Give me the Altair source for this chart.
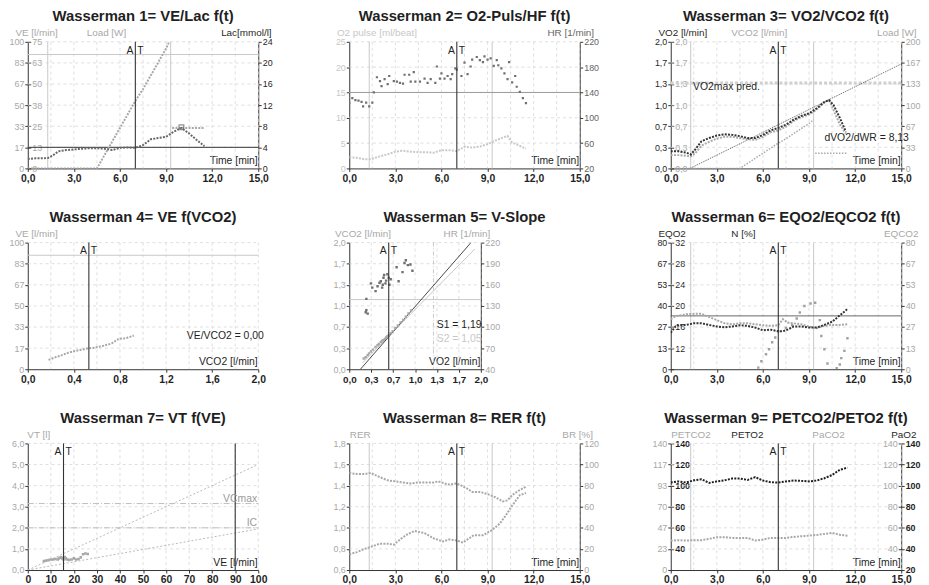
import altair as alt
import pandas as pd

FONT = "Liberation Sans"
INK = "#1f1f1f"
DARK = "#333333"
MID = "#666666"
LIGHT = "#a8a8a8"
PALE = "#c8c8c8"
GRIDC = "#d6d6d6"
W, H = 233, 128
W5 = 133

# ---------------- data ----------------
TIME_TICKS = [0, 3, 6, 9, 12, 15]
TIME_GRID = [1.5, 3, 4.5, 6, 7.5, 9, 10.5, 12, 13.5, 15]
PHASES = [1.3, 9.3]
AT_TIME = [7.0]

VE_TICKS = [0, 16.667, 33.333, 50, 66.667, 83.333, 100]
LOAD75_TICKS = [0, 12.5, 25, 37.5, 50, 62.5, 75]
LAC_TICKS = [0, 4, 8, 12, 16, 20, 24]
O2P_TICKS = [0, 5, 10, 15, 20, 25]
HR2_TICKS = [20, 60, 100, 140, 180, 220]
V2_TICKS = [0, 0.3333, 0.6667, 1.0, 1.3333, 1.6667, 2.0]
LOAD200_TICKS = [0, 33.333, 66.667, 100, 133.333, 166.667, 200]
VCO2X_TICKS = [0, 0.4, 0.8, 1.2, 1.6, 2.0]
VCO2X_GRID = [0.2, 0.4, 0.6, 0.8, 1.0, 1.2, 1.4, 1.6, 1.8, 2.0]
HR5_TICKS = [40, 70, 100, 130, 160, 190, 220]
EQ_TICKS = [0, 13.333, 26.667, 40, 53.333, 66.667, 80]
N_TICKS = [8, 12, 16, 20, 24, 28, 32]
VT_TICKS = [0, 1, 2, 3, 4, 5, 6]
VE7_TICKS = [0, 10, 20, 30, 40, 50, 60, 70, 80, 90, 100]
RER_TICKS = [0.6, 0.8, 1.0, 1.2, 1.4, 1.6, 1.8]
BR_TICKS = [0, 20, 40, 60, 80, 100, 120]
PETCO2_TICKS = [0, 23.333, 46.667, 70, 93.333, 116.667, 140]
P140_TICKS = [20, 40, 60, 80, 100, 120, 140]

# panel 1
p1_t = [0.0, 0.5, 1.0, 1.3, 1.6, 2.0, 2.5, 3.0, 3.5, 4.0, 4.5, 5.0, 5.5, 6.0, 6.5, 7.0, 7.5, 8.0, 8.5, 9.0,
        9.5, 10.0, 10.5, 11.0, 11.5]
p1_ve = [7.5, 8.0, 8.0, 8.2, 10.0, 13.5, 14.5, 15.0, 15.5, 16.0, 16.0, 15.5, 14.5, 16.3, 16.5, 16.3, 18.4, 23.0,
         24.0, 25.0, 29.0, 32.0, 27.6, 22.4, 17.6]
load_t = [0.0, 1.0, 2.0, 3.0, 4.0, 4.5, 5.0, 5.5, 6.0, 6.5, 7.0, 7.5, 8.0, 8.5, 9.0, 9.3]
load_w = [0, 0, 0, 0, 0, 0, 8, 16, 24, 32, 40, 47, 55, 63, 71, 77]
rec_t = [9.4, 10.0, 10.5, 11.0, 11.5]
rec_w = [24, 24, 24, 24, 24]
lac_t = [10.0]
lac_v = [7.8]

# panel 2
hr_t = [0.0, 0.2, 0.4, 0.6, 0.8, 0.9, 1.1, 1.3, 1.5, 1.6, 1.8, 2.0, 2.1, 2.3, 2.5, 2.6, 2.9, 3.1, 3.3, 3.5,
        3.6, 3.9, 4.0, 4.2, 4.3, 4.6, 4.9, 5.1, 5.3, 5.6, 5.7, 5.9, 6.0, 6.2, 6.4, 6.6, 6.7, 6.9, 7.0, 7.3,
        7.5, 7.7, 7.9, 8.0, 8.3, 8.5, 8.7, 8.8, 9.0, 9.2, 9.4, 9.6, 9.7, 9.9, 10.1, 10.3, 10.4, 10.6, 10.8,
        10.9, 11.1, 11.3, 11.5]
hr = [123, 131, 128, 127, 125, 118, 124, 118, 124, 140, 164, 158, 150, 161, 153, 166, 158, 157, 155, 154,
      168, 168, 157, 172, 157, 157, 162, 155, 161, 155, 181, 162, 170, 162, 166, 161, 169, 178, 176, 166,
      187, 169, 181, 192, 196, 191, 188, 197, 192, 194, 182, 191, 183, 178, 170, 161, 188, 156, 166, 149,
      141, 131, 123]
op_t = [0.0, 0.5, 1.0, 1.3, 1.6, 2.0, 2.5, 3.0, 3.5, 4.0, 4.5, 5.0, 5.5, 6.0, 6.5, 7.0, 7.5, 8.0, 8.5, 9.0,
        9.5, 10.0, 10.3, 10.6, 11.0, 11.5]
o2pulse = [2.2, 2.1, 1.8, 1.8, 2.0, 2.4, 2.8, 3.3, 3.5, 3.3, 3.2, 3.2, 3.1, 3.6, 3.6, 3.4, 4.3, 4.1, 4.3, 4.8,
           5.5, 6.1, 6.4, 5.1, 4.6, 3.9]

# panel 3
v_t = [0.0, 0.5, 1.0, 1.3, 1.6, 2.0, 2.5, 3.0, 3.5, 4.0, 4.5, 5.0, 5.5, 6.0, 6.5, 7.0, 7.5, 8.0, 8.5, 9.0,
       9.5, 10.0, 10.3, 10.6, 11.0, 11.4]
vo2 = [0.27, 0.27, 0.25, 0.22, 0.30, 0.43, 0.48, 0.52, 0.54, 0.53, 0.51, 0.48, 0.48, 0.53, 0.60, 0.64, 0.69,
       0.77, 0.83, 0.87, 0.95, 1.05, 1.08, 1.00, 0.80, 0.58]
vco2 = [0.21, 0.21, 0.20, 0.19, 0.24, 0.36, 0.42, 0.47, 0.50, 0.50, 0.48, 0.46, 0.45, 0.50, 0.57, 0.60, 0.66,
        0.75, 0.81, 0.85, 0.93, 1.04, 1.08, 0.92, 0.70, 0.55]
pred_t = [1.25, 15.0]
pred_v = [0.0, 1.65]
vo2max_pred = [1.35]

# panel 4
p4_vco2 = [0.18, 0.20, 0.24, 0.28, 0.32, 0.35, 0.40, 0.44, 0.48, 0.51, 0.54, 0.58, 0.62, 0.65, 0.70, 0.73,
           0.78, 0.80, 0.82, 0.87, 0.92]
p4_ve = [7.4, 8.0, 9.5, 10.5, 12.0, 13.0, 14.2, 15.0, 15.6, 16.3, 16.6, 17.0, 17.8, 18.4, 19.6, 20.5, 23.5,
         24.2, 24.0, 25.0, 26.6]
p4_at = [0.53]

# panel 5
p5_vo2 = [0.22, 0.25, 0.28, 0.30, 0.33, 0.36, 0.40, 0.43, 0.45, 0.48, 0.50, 0.52, 0.54, 0.56, 0.58, 0.60,
          0.63, 0.66, 0.70, 0.74, 0.78, 0.82, 0.86, 0.90, 0.94]
p5_vco2 = [0.17, 0.19, 0.22, 0.25, 0.28, 0.31, 0.35, 0.38, 0.40, 0.43, 0.45, 0.46, 0.48, 0.50, 0.52, 0.54,
           0.57, 0.60, 0.65, 0.69, 0.74, 0.78, 0.83, 0.88, 0.93]
p5_hx = [0.25, 0.26, 0.28, 0.26, 0.33, 0.35, 0.40, 0.43, 0.46, 0.48, 0.50, 0.51, 0.52, 0.53, 0.55, 0.56, 0.58,
         0.60, 0.61, 0.63, 0.72, 0.75, 0.81, 0.84, 0.86, 0.89, 0.93, 0.96]
p5_hr = [121, 124, 119, 140, 162, 156, 151, 158, 163, 165, 156, 160, 170, 174, 162, 166, 175, 170, 160, 168,
         185, 165, 178, 191, 195, 188, 189, 180]
s1_x = [0.17, 1.85]
s1_y = [0.0, 2.0]
s2_x = [0.20, 1.91]
s2_y = [0.10, 1.90]
p5_at = [0.6]
p5_hline = [1.1]
p5_vline = [1.28]

# panel 6
eq_t = [0.0, 0.3, 0.6, 1.0, 1.5, 2.0, 2.5, 3.0, 3.5, 4.0, 4.5, 5.0, 5.5, 6.0, 6.5, 7.0, 7.3, 7.6, 8.0, 8.5,
        9.0, 9.5, 10.0, 10.5, 11.0, 11.5]
eqo2 = [23, 27, 28, 28, 29, 29, 28, 27, 26.5, 27, 27.8, 27.4, 26.3, 24.6, 25, 24, 24, 25, 27, 27, 26.3, 26.3,
        28, 30, 34, 38]
eqco2 = [31.6, 33.5, 34, 34.7, 35, 35, 33, 31, 29, 28.4, 29, 29, 28.4, 27.8, 27.4, 27.8, 31.6, 29.5, 29, 28.4,
         27, 25.9, 27.4, 28, 28, 28.4]
n_t = [5.7, 5.9, 6.2, 6.4, 6.6, 6.8, 7.0, 7.5, 7.9, 8.2, 8.4, 8.7, 9.1, 9.4, 9.7, 9.8, 10.0, 10.2, 10.8, 11.0,
       11.1, 11.3, 11.5]
n_v = [1, 5, 9.5, 12.6, 17, 20, 24, 26, 28, 32, 35.8, 40, 41.5, 42, 31, 21, 12.6, 3.6, 0.6, 3, 7, 11.6, 19.6]
eq_ref = [33.7]

# panel 7
p7_ve = [7, 8, 9, 10, 11, 12, 13, 13.5, 14, 14.5, 15, 15.5, 16, 16.5, 17, 18, 19, 20, 21, 22, 23, 24, 25, 26]
p7_vt = [0.42, 0.45, 0.47, 0.5, 0.5, 0.52, 0.5, 0.55, 0.58, 0.6, 0.55, 0.5, 0.62, 0.55, 0.5, 0.48, 0.5, 0.55,
         0.5, 0.52, 0.6, 0.75, 0.78, 0.76]
vc_line_x = [0, 100]
vc_line_y = [0, 5.0]
ic_line_x = [0, 100]
ic_line_y = [0, 1.95]
vcmax = [3.15]
ic = [2.0]
p7_at = [15.5]
ve_max = [90]

# panel 8
rer_t = [0.0, 0.5, 1.0, 1.4, 2.0, 2.5, 2.9, 3.4, 3.8, 4.25, 4.9, 5.5, 6.1, 6.5, 7.0, 7.4, 7.9, 8.1, 8.7, 9.3,
         9.8, 10.2, 10.6, 11.1, 11.5]
rer = [0.75, 0.77, 0.80, 0.82, 0.85, 0.85, 0.84, 0.90, 0.94, 0.97, 0.95, 0.90, 0.87, 0.89, 0.88, 0.86, 0.91,
       0.93, 0.93, 0.98, 1.04, 1.12, 1.21, 1.31, 1.33]
br_t = [0.0, 0.5, 1.0, 1.4, 2.0, 2.5, 3.0, 3.5, 4.0, 4.5, 5.0, 5.5, 5.8, 6.2, 6.5, 7.0, 7.3, 7.7, 8.0, 8.5,
        9.0, 9.5, 10.0, 10.3, 10.6, 11.0, 11.5]
br = [92, 91, 91, 92, 88, 85, 84, 83, 82, 83, 83, 83, 84, 82, 81, 82, 80, 77, 74, 74, 72, 69, 65, 66, 71, 75, 79]

# panel 9
pe_t = [0.0, 0.5, 1.0, 1.5, 2.0, 2.5, 3.0, 3.5, 4.0, 4.5, 5.0, 5.5, 6.0, 6.5, 7.0, 7.5, 8.0, 8.5, 9.0, 9.5,
        10.0, 10.5, 11.0, 11.5]
peto2 = [103, 104, 103, 105, 106, 102.6, 104, 105, 106.7, 106.7, 105.4, 108, 104.8, 103.2, 102.9, 104, 104.8,
         104.5, 104, 104.8, 107, 110, 115, 117]
petco2 = [32.6, 33, 32.6, 33, 33, 34.4, 36.3, 36.3, 35.5, 35.5, 35.5, 32.6, 33.7, 35.5, 35.5, 35.5, 36.6, 37.4,
          38, 38.8, 39.9, 41, 39, 38]

# ---------------- helpers ----------------
INT = "format(datum.value, '.0f')"
DEC = "replace(format(datum.value, '.1f'), '.', ',')"


def D(**cols):
    return pd.DataFrame(cols)


def S(lo, hi, rng=None):
    if rng is None:
        return alt.Scale(domain=[lo, hi], nice=False, zero=False)
    return alt.Scale(domain=[lo, hi], nice=False, zero=False, range=rng)


class PX:
    """x scale + the (identical) x axis used by every layer of a panel."""

    def __init__(self, lo, hi, values, expr, title, width=W, size=10.5, rng=None):
        self.lo = lo
        self.scale = S(lo, hi, rng)
        self.axis = alt.Axis(values=values, labelExpr=expr, title=title, titleAngle=0, titleX=width - 1,
                             titleY=-3, titleAlign='right', titleBaseline='bottom', titleFontSize=10.5,
                             titleFontWeight='normal', titleColor=INK, labelColor=INK, labelFontSize=size,
                             labelFontWeight='bold', labelPadding=2, labelFlush=False, labelOverlap=False,
                             tickSize=3, tickColor=DARK, domainColor=DARK, grid=False)


def XE(px, f='x:Q'):
    return alt.X(f, scale=px.scale, axis=px.axis)


def YE(ysc, f='y:Q'):
    return alt.Y(f, scale=ysc, axis=None)


def yaxis(px, ysc, values, expr, orient='left', offset=0, color=LIGHT, title=None, tx=0, talign='left',
          tcolor=None, bold=False, domain=True):
    kw = dict(orient=orient, offset=offset, values=values, labelExpr=expr, labelColor=color, labelFontSize=9,
              labelFontWeight='bold' if bold else 'normal', labelPadding=1, labelFlush=False,
              labelOverlap=False, tickSize=3, tickColor=DARK, domain=domain, domainColor=DARK, grid=False)
    if title:
        kw.update(title=title, titleAngle=0, titleX=tx, titleY=-6, titleAlign=talign,
                  titleBaseline='alphabetic', titleColor=tcolor or color, titleFontSize=10,
                  titleFontWeight='normal')
    else:
        kw['title'] = None
    return alt.Chart(D(x=[px.lo], y=[values[0]])).mark_point(opacity=0).encode(
        x=XE(px), y=alt.Y('y:Q', scale=ysc, axis=alt.Axis(**kw)))


def vrule(px, xs_, color=GRIDC, width=0.8, dash=(3, 3)):
    kw = dict(color=color, strokeWidth=width)
    if dash:
        kw['strokeDash'] = list(dash)
    return alt.Chart(D(x=xs_)).mark_rule(**kw).encode(x=XE(px))


def hrule(px, ysc, ys_, color=GRIDC, width=0.8, dash=(3, 3), xlo=None, xhi=None):
    kw = dict(color=color, strokeWidth=width)
    if dash:
        kw['strokeDash'] = list(dash)
    n = len(ys_)
    if xlo is None:
        return alt.Chart(D(y=ys_, x=[px.lo] * n)).mark_rule(**kw).encode(
            y=YE(ysc), x=alt.X('x:Q', scale=px.scale, axis=px.axis), x2=alt.value(W))
    return alt.Chart(D(y=ys_, x=[xlo] * n, b=[xhi] * n)).mark_rule(**kw).encode(
        y=YE(ysc), x=XE(px), x2='b:Q')


def line(px, ysc, x, y, color, width=2.0, dash=(2, 1.3)):
    kw = dict(color=color, strokeWidth=width, clip=True)
    if dash:
        kw['strokeDash'] = list(dash)
    return alt.Chart(D(x=x, y=y)).mark_line(**kw).encode(x=XE(px), y=YE(ysc))


def pts(px, ysc, x, y, color, size=6):
    return alt.Chart(D(x=x, y=y)).mark_square(color=color, size=size, opacity=1, clip=True).encode(
        x=XE(px), y=YE(ysc))


def label(px, ysc, x, y, s, color=INK, align='left', size=10.5):
    return alt.Chart(D(x=[x], y=[y], t=[s])).mark_text(color=color, align=align, fontSize=size,
                                                        baseline='middle').encode(
        x=XE(px), y=YE(ysc), text='t:N')


def at_marker(px, xs_):
    return [
        vrule(px, xs_, DARK, 1.1, None),
        alt.Chart(D(x=xs_, t=['A'] * len(xs_))).mark_text(align='right', dx=-2, fontSize=10.5, color=INK,
                                                          baseline='middle', y=9).encode(
            x=XE(px), text='t:N'),
        alt.Chart(D(x=xs_, t=['T'] * len(xs_))).mark_text(align='left', dx=2, fontSize=10.5, color=INK,
                                                          baseline='middle', y=9).encode(
            x=XE(px), text='t:N'),
    ]


def panel(title, layers):
    return alt.layer(*layers).resolve_scale(y='independent').properties(
        width=W, height=H, title=title)


def time_px():
    return PX(0, 15, TIME_TICKS, DEC, 'Time [min]')


# ---------------- panels ----------------
# 1
tx = time_px()
ve = S(0, 100)
ld75 = S(0, 75)
lac = S(0, 24)
p1 = panel("Wasserman 1= VE/Lac f(t)", [
    vrule(tx, TIME_GRID), hrule(tx, ve, VE_TICKS[1:]),
    vrule(tx, PHASES, PALE, 1, None),
    hrule(tx, ve, [90], PALE, 1, None),
    hrule(tx, lac, [4], DARK, 1, None),
    line(tx, ld75, load_t, load_w, LIGHT),
    line(tx, ld75, rec_t, rec_w, LIGHT),
    line(tx, ve, p1_t, p1_ve, MID),
    alt.Chart(D(x=lac_t, y=lac_v)).mark_square(size=22, filled=False, color=MID, strokeWidth=1.2).encode(
        x=XE(tx), y=YE(lac)),
    *at_marker(tx, AT_TIME),
    yaxis(tx, ve, VE_TICKS, INT, 'left', 0, LIGHT, 'VE [l/min]', -13, 'left'),
    yaxis(tx, ld75, LOAD75_TICKS, INT, 'right', -W, LIGHT, 'Load [W]', 79, 'center', domain=False),
    yaxis(tx, lac, LAC_TICKS, INT, 'right', 0, INK, 'Lac[mmol/l]', 13, 'right'),
])

# 2
tx = time_px()
o2p = S(0, 25)
hr2 = S(20, 220)
p2 = panel("Wasserman 2= O2-Puls/HF f(t)", [
    vrule(tx, TIME_GRID), hrule(tx, o2p, O2P_TICKS[1:]),
    vrule(tx, PHASES, PALE, 1, None),
    hrule(tx, hr2, [140], "#9a9a9a", 1, None),
    line(tx, o2p, op_t, o2pulse, PALE),
    pts(tx, hr2, hr_t, hr, "#707070", 5),
    *at_marker(tx, AT_TIME),
    yaxis(tx, o2p, O2P_TICKS, INT, 'left', 0, PALE, 'O2 pulse [ml/beat]', -13, 'left'),
    yaxis(tx, hr2, HR2_TICKS, INT, 'right', 0, MID, 'HR [1/min]', 14, 'right'),
])

# 3
tx = time_px()
v2 = S(0, 2)
ld200 = S(0, 200)
p3 = panel("Wasserman 3= VO2/VCO2 f(t)", [
    vrule(tx, TIME_GRID), hrule(tx, v2, V2_TICKS[1:]),
    vrule(tx, PHASES, PALE, 1, None),
    hrule(tx, v2, vo2max_pred, "#d0d0d0", 3, (3, 2)),
    line(tx, v2, pred_t, pred_v, MID, 0.9, (1.5, 1)),
    line(tx, ld200, load_t, load_w, LIGHT, 1.5, (1.5, 1.5)),
    line(tx, ld200, rec_t, rec_w, LIGHT, 1.5, (1.5, 1.5)),
    line(tx, v2, v_t, vco2, LIGHT),
    line(tx, v2, v_t, vo2, DARK),
    label(tx, v2, 1.45, 1.28, "VO2max pred."),
    label(tx, v2, 10.0, 0.48, "dVO2/dWR = 8,13"),
    *at_marker(tx, AT_TIME),
    yaxis(tx, v2, V2_TICKS, DEC, 'left', 0, INK, 'VO2 [l/min]', -13, 'left'),
    yaxis(tx, v2, V2_TICKS, DEC, 'right', -W, LIGHT, 'VCO2 [l/min]', 89, 'center', domain=False),
    yaxis(tx, ld200, LOAD200_TICKS, INT, 'right', 0, LIGHT, 'Load [W]', 15, 'right'),
])

# 4
xv4 = PX(0, 2, VCO2X_TICKS, DEC, 'VCO2 [l/min]')
p4 = panel("Wasserman 4= VE f(VCO2)", [
    vrule(xv4, VCO2X_GRID), hrule(xv4, ve, VE_TICKS[1:]),
    hrule(xv4, ve, [90], PALE, 1, None),
    line(xv4, ve, p4_vco2, p4_ve, LIGHT),
    label(xv4, ve, 1.38, 26, "VE/VCO2 = 0,00"),
    *at_marker(xv4, p4_at),
    yaxis(xv4, ve, VE_TICKS, INT, 'left', 0, LIGHT, 'VE [l/min]', -13, 'left'),
])

# 5 (square plot occupying the left part of the panel)
x5 = PX(0, 2, V2_TICKS, DEC, 'VO2 [l/min]', width=W5, size=10, rng=[0, W5])
hr5 = S(40, 220)
p5 = panel("Wasserman 5= V-Slope", [
    vrule(x5, V2_TICKS[1:]), hrule(x5, v2, V2_TICKS[1:], xlo=0, xhi=2),
    hrule(x5, v2, p5_hline, PALE, 1, None, xlo=0, xhi=2),
    vrule(x5, p5_vline, PALE, 1, (4, 2, 1, 2)),
    line(x5, v2, s2_x, s2_y, PALE, 1, None),
    line(x5, v2, s1_x, s1_y, DARK, 0.9, None),
    pts(x5, v2, p5_vo2, p5_vco2, LIGHT, 6),
    pts(x5, hr5, p5_hx, p5_hr, "#707070", 6),
    label(x5, v2, 1.33, 0.70, "S1 = 1,19"),
    label(x5, v2, 1.33, 0.48, "S2 = 1,05", PALE),
    *at_marker(x5, p5_at),
    yaxis(x5, v2, V2_TICKS, DEC, 'left', 0, LIGHT, 'VCO2 [l/min]', -15, 'left'),
    yaxis(x5, hr5, HR5_TICKS, INT, 'right', -(W - W5), LIGHT, 'HR [1/min]', 9, 'right'),
])

# 6
tx = time_px()
eq = S(0, 80)
nsc = S(8, 32)
p6 = panel("Wasserman 6= EQO2/EQCO2 f(t)", [
    vrule(tx, TIME_GRID), hrule(tx, eq, EQ_TICKS[1:]),
    vrule(tx, PHASES, PALE, 1, None),
    hrule(tx, eq, eq_ref, MID, 1, None),
    pts(tx, eq, n_t, n_v, "#a0a0a0", 6),
    line(tx, eq, eq_t, eqco2, LIGHT),
    line(tx, eq, eq_t, eqo2, DARK),
    *at_marker(tx, AT_TIME),
    yaxis(tx, eq, EQ_TICKS, INT, 'left', 0, INK, 'EQO2', -13, 'left'),
    yaxis(tx, nsc, N_TICKS, "datum.value < 9 ? '' : format(datum.value, '.0f')", 'right', -W, INK, 'N [%]',
          73, 'center', domain=False),
    yaxis(tx, eq, EQ_TICKS, INT, 'right', 0, LIGHT, 'EQCO2', 17, 'right'),
])

# 7
xv7 = PX(0, 100, VE7_TICKS, INT, 'VE [l/min]')
vt = S(0, 6)
p7 = panel("Wasserman 7= VT f(VE)", [
    vrule(xv7, VE7_TICKS[1:]), hrule(xv7, vt, VT_TICKS[1:]),
    hrule(xv7, vt, vcmax, "#bdbdbd", 1, (6, 2, 1, 2)),
    hrule(xv7, vt, ic, "#bdbdbd", 1, (6, 2, 1, 2)),
    line(xv7, vt, vc_line_x, vc_line_y, "#b8b8b8", 1, (2, 2)),
    line(xv7, vt, ic_line_x, ic_line_y, "#b8b8b8", 1, (2, 2)),
    vrule(xv7, ve_max, DARK, 1.1, None),
    pts(xv7, vt, p7_ve, p7_vt, LIGHT, 7),
    label(xv7, vt, 99.5, 3.35, "VCmax", "#9a9a9a", 'right'),
    label(xv7, vt, 99.5, 2.25, "IC", "#9a9a9a", 'right'),
    *at_marker(xv7, p7_at),
    yaxis(xv7, vt, VT_TICKS, DEC, 'left', 0, LIGHT, 'VT [l]', -1, 'left'),
])

# 8
tx = time_px()
rs = S(0.6, 1.8)
brs = S(0, 120)
p8 = panel("Wasserman 8= RER f(t)", [
    vrule(tx, TIME_GRID), hrule(tx, rs, RER_TICKS[1:]),
    vrule(tx, PHASES, PALE, 1, None),
    line(tx, brs, br_t, br, LIGHT),
    line(tx, rs, rer_t, rer, LIGHT),
    *at_marker(tx, AT_TIME),
    yaxis(tx, rs, RER_TICKS, DEC, 'left', 0, LIGHT, 'RER', 0, 'left'),
    yaxis(tx, brs, BR_TICKS, INT, 'right', 0, LIGHT, 'BR [%]', 13, 'right'),
])

# 9
tx = time_px()
pco = S(0, 140)
p140 = S(20, 140)
HIDE20 = "datum.value < 21 ? '' : format(datum.value, '.0f')"
p9 = panel("Wasserman 9= PETCO2/PETO2 f(t)", [
    vrule(tx, TIME_GRID), hrule(tx, p140, P140_TICKS[1:]),
    vrule(tx, PHASES, PALE, 1, None),
    line(tx, pco, pe_t, petco2, LIGHT),
    line(tx, p140, pe_t, peto2, INK),
    *at_marker(tx, AT_TIME),
    yaxis(tx, pco, PETCO2_TICKS, INT, 'left', 0, LIGHT, 'PETCO2', 0, 'left'),
    yaxis(tx, p140, P140_TICKS, HIDE20, 'right', -W, INK, 'PETO2', 77, 'center', bold=True, domain=False),
    yaxis(tx, p140, P140_TICKS, HIDE20, 'left', -W, LIGHT, 'PaCO2', -74, 'center', domain=False),
    yaxis(tx, p140, P140_TICKS, INT, 'right', 0, INK, 'PaO2', 15, 'right', bold=True),
])

row1 = alt.hconcat(p1, p2, p3, spacing=92, bounds='flush')
row2 = alt.hconcat(p4, p5, p6, spacing=92, bounds='flush')
row3 = alt.hconcat(p7, p8, p9, spacing=92, bounds='flush')

chart = alt.vconcat(row1, row2, row3, spacing=26).properties(
    padding={"left": 0, "top": -2, "right": 0, "bottom": 0}
).configure_view(strokeWidth=0).configure_title(
    font=FONT, fontSize=15, fontWeight='bold', color=INK, anchor='middle', frame='group', offset=0
).configure_axis(labelFont=FONT, titleFont=FONT).configure_text(font=FONT)

chart.save("out.html", embed_options={"renderer": "svg", "actions": False})
